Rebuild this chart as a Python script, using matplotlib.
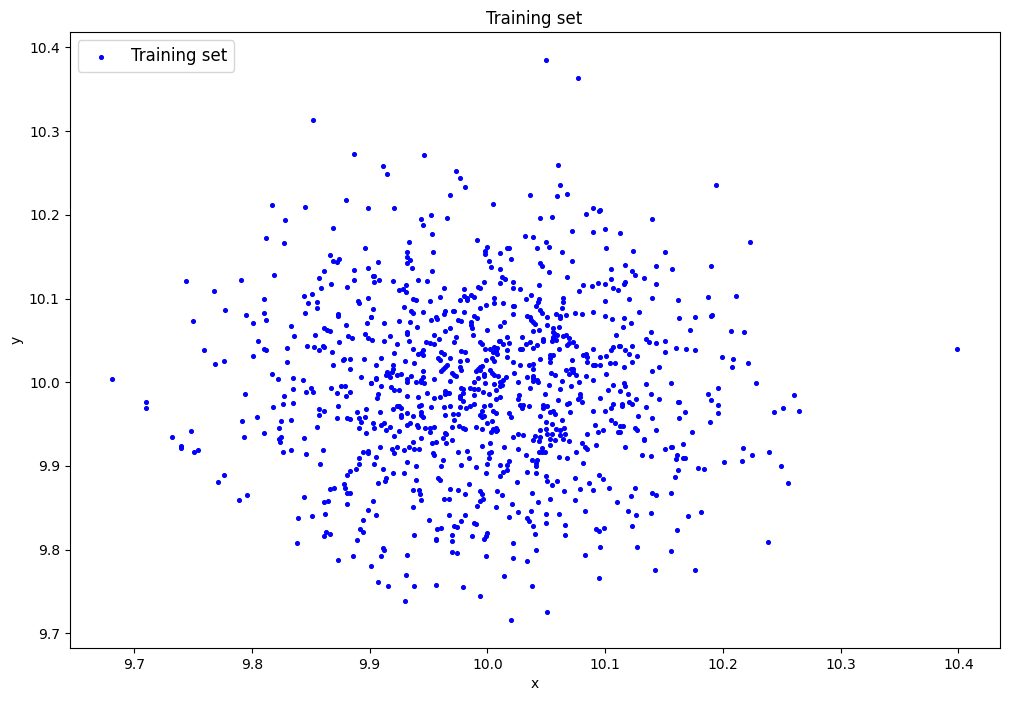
import numpy as np
from matplotlib import pyplot as plt

# values, (x, y), one list per part of the cloud
top_points = [
    (9.852,10.313),(9.887,10.273),(9.911,10.258),(9.915,10.249),(9.817,10.212),(9.845,10.209),(9.880,10.218),
    (9.899,10.208),(9.921,10.208),(9.828,10.194),(9.869,10.184),(9.812,10.172),
    (10.050,10.385),(10.077,10.363),(9.946,10.272),(10.060,10.260),(9.973,10.252),(9.977,10.244),(9.981,10.233),
    (10.194,10.236),(10.062,10.236),(9.968,10.224),(10.036,10.224),(10.059,10.223),(10.068,10.225),(10.005,10.213),
    (10.090,10.208),(10.096,10.206),(10.095,10.205),(10.084,10.201),(9.952,10.200),(9.944,10.195),(9.966,10.196),
    (10.045,10.196),(10.055,10.197),(10.140,10.195),(9.945,10.188),(9.953,10.177),(10.072,10.181),(10.090,10.180),
    (10.100,10.183),(10.113,10.178),(10.032,10.175),(10.039,10.174),(9.991,10.170),
]

left_points = [
    (9.827,10.166),(9.896,10.160),(9.866,10.152),(9.874,10.147),(9.869,10.145),(9.872,10.144),(9.899,10.137),
    (9.861,10.133),(9.887,10.134),(9.819,10.128),(9.857,10.125),(9.887,10.122),(9.744,10.121),(9.791,10.122),
    (9.867,10.117),(9.881,10.114),(9.859,10.113),(9.768,10.109),(9.851,10.105),(9.844,10.103),(9.899,10.101),
    (9.810,10.100),(9.890,10.097),(9.891,10.095),(9.848,10.095),(9.855,10.096),(9.855,10.089),(9.777,10.086),
    (9.810,10.083),(9.845,10.083),(9.795,10.080),(9.873,10.082),(9.873,10.079),(9.901,10.078),(9.812,10.074),
    (9.750,10.073),(9.801,10.071),(9.898,10.071),(9.833,10.067),(9.880,10.068),(9.861,10.065),(9.864,10.062),
    (9.866,10.061),(9.896,10.058),(9.854,10.057),(9.882,10.055),(9.885,10.053),(9.899,10.053),(9.836,10.055),
    (9.805,10.049),(9.874,10.048),(9.847,10.043),(9.853,10.042),(9.860,10.043),(9.861,10.042),(9.830,10.041),
    (9.857,10.039),(9.810,10.040),(9.812,10.039),(9.759,10.039),(9.868,10.036),(9.801,10.031),(9.877,10.027),
    (9.878,10.028),(9.883,10.028),(9.895,10.028),(9.776,10.025),(9.830,10.024),(9.769,10.022),(9.869,10.021),
    (9.883,10.016),(9.817,10.010),(9.681,10.004),(9.822,10.004),(9.835,10.005),(9.843,10.003),(9.893,10.006),
    (9.901,9.999),(9.876,9.996),(9.879,9.996),(9.867,9.993),(9.850,9.993),(9.835,9.992),(9.846,9.988),
    (9.852,9.988),(9.872,9.987),(9.883,9.988),(9.794,9.986),(9.880,9.984),(9.827,9.984),(9.710,9.977),
    (9.826,9.974),(9.835,9.975),(9.710,9.969),(9.873,9.972),(9.818,9.971),(9.857,9.968),(9.861,9.966),
    (9.897,9.968),(9.889,9.965),(9.857,9.961),(9.804,9.959),(9.872,9.957),(9.881,9.957),(9.883,9.956),
    (9.891,9.957),(9.896,9.959),(9.893,9.953),(9.792,9.954),(9.825,9.954),(9.833,9.955),(9.855,9.947),
    (9.823,9.945),(9.891,9.945),(9.748,9.942),(9.810,9.939),(9.897,9.939),(9.732,9.935),(9.793,9.935),
    (9.825,9.935),(9.844,9.934),(9.823,9.932),
    (9.740,9.924),(9.740,9.922),(9.751,9.917),(9.754,9.919),(9.776,9.889),(9.771,9.881),(9.796,9.865),(9.789,9.859),
]

center_upper = [
    (9.933,10.168),(10.050,10.168),(10.000,10.162),(10.017,10.160),(10.018,10.160),(10.042,10.160),(10.052,10.162),
    (10.101,10.160),(9.932,10.156),(9.954,10.156),(9.998,10.157),(9.998,10.153),(10.011,10.154),(10.063,10.156),
    (9.932,10.150),(9.934,10.146),(9.932,10.142),(9.907,10.144),(10.001,10.145),(10.020,10.147),(10.072,10.145),
    (10.045,10.142),(10.046,10.139),(9.936,10.137),(10.003,10.138),(10.011,10.135),(10.105,10.135),(9.953,10.133),
    (10.052,10.132),(10.068,10.126),(10.012,10.126),(10.015,10.123),(9.903,10.127),(9.904,10.127),(9.904,10.120),
    (9.908,10.122),(9.920,10.121),(9.941,10.122),(9.949,10.121),(10.011,10.119),(10.022,10.120),(9.997,10.120),
    (10.105,10.123),(10.100,10.117),(10.094,10.119),(10.089,10.115),(10.081,10.116),(10.078,10.109),(10.107,10.113),
    (10.111,10.110),(9.931,10.116),(9.928,10.111),(9.925,10.110),(9.931,10.108),(10.044,10.116),(10.022,10.113),
    (10.028,10.111),(9.992,10.114),(9.994,10.113),(9.963,10.113),(9.980,10.111),(9.980,10.103),(9.983,10.101),
    (9.983,10.098),(9.986,10.104),(9.989,10.102),(9.977,10.098),(9.960,10.102),(9.951,10.097),(9.937,10.100),
    (9.939,10.098),(10.006,10.101),(10.006,10.095),(10.013,10.095),(9.999,10.092),(9.994,10.089),(10.037,10.104),
    (10.033,10.100),(10.044,10.100),(10.043,10.096),(10.041,10.091),(10.064,10.101),(10.064,10.096),(10.100,10.097),
    (10.063,10.089),(10.022,10.091),(10.023,10.091),(10.022,10.082),(10.045,10.086),(10.046,10.083),(9.929,10.090),
    (9.903,10.088),(9.935,10.085),(9.937,10.083),(9.945,10.084),(9.964,10.085),(9.963,10.082),(9.971,10.085),
    (9.972,10.085),(9.980,10.084),(9.989,10.079),(9.991,10.077),(9.901,10.078),(10.034,10.079),(10.036,10.078),
    (10.037,10.074),(10.039,10.072),(10.051,10.078),(10.058,10.082),(10.062,10.077),(10.062,10.079),(10.067,10.080),
    (10.074,10.083),(10.080,10.082),(10.090,10.084),(10.100,10.079),(10.106,10.076),(9.956,10.078),(9.957,10.076),
    (9.952,10.074),(9.975,10.074),(9.978,10.073),(9.912,10.071),(9.925,10.073),(9.934,10.072),(9.986,10.072),
    (9.986,10.068),(9.987,10.065),(10.014,10.072),(10.011,10.067),(10.040,10.070),(10.051,10.068),(10.056,10.065),
    (10.061,10.066),(9.968,10.065),(9.964,10.061),(9.940,10.066),(9.932,10.060),(9.932,10.058),(10.000,10.062),
    (10.039,10.061),(10.044,10.062),(10.056,10.060),(10.057,10.058),(10.059,10.057),(10.056,10.054),(10.056,10.052),
    (10.058,10.051),(10.055,10.049),(10.064,10.055),(10.067,10.057),(10.069,10.053),(10.109,10.057),(9.955,10.057),
    (9.917,10.055),(9.988,10.057),(9.973,10.054),(9.972,10.048),(9.959,10.052),(9.902,10.051),(9.912,10.049),
    (9.933,10.049),(10.017,10.054),(10.029,10.054),(10.047,10.052),(10.047,10.049),(9.948,10.048),(9.951,10.047),
    (9.955,10.046),(9.994,10.048),(9.995,10.046),(10.010,10.049),(10.011,10.049),(10.013,10.046),(10.018,10.047),
    (10.033,10.046),(10.036,10.048),(10.069,10.047),(10.068,10.045),(10.073,10.048),(10.075,10.043),(9.923,10.046),
    (10.039,10.041),(10.042,10.045),(9.937,10.040),(9.998,10.040),(10.002,10.040),(10.006,10.042),(10.008,10.041),
    (10.005,10.036),(10.007,10.037),(10.017,10.039),(10.028,10.040),(10.029,10.040),(10.061,10.040),(10.090,10.040),
    (10.105,10.039),(10.107,10.042),(10.112,10.043),(9.945,10.039),(9.944,10.035),(9.941,10.034),(9.945,10.033),
    (9.961,10.036),(9.963,10.034),(9.978,10.037),(9.981,10.036),(9.921,10.035),(10.008,10.034),(10.017,10.030),
    (10.053,10.033),(10.056,10.033),(10.053,10.029),(10.081,10.033),(10.084,10.034),(10.085,10.030),(9.910,10.029),
    (9.958,10.029),(9.960,10.027),(9.968,10.029),(9.983,10.027),(9.977,10.025),(9.999,10.027),(10.004,10.029),
    (10.006,10.025),(10.045,10.028),(9.930,10.025),(9.938,10.023),(10.022,10.024),(10.053,10.024),(10.085,10.024),
    (10.072,10.027),(10.096,10.030),(10.101,10.031),(10.090,10.021),(10.091,10.021),(10.096,10.021),(10.104,10.023),
    (10.108,10.023),
]

center_lower = [
    (9.905,10.021),(9.920,10.021),(9.920,10.016),(9.966,10.021),(9.964,10.018),(9.962,10.016),(9.961,10.014),
    (9.977,10.018),(9.978,10.015),(9.995,10.020),(9.994,10.018),(9.992,10.016),(9.990,10.014),(9.994,10.015),
    (10.028,10.021),(10.035,10.021),(10.039,10.022),(10.039,10.016),(9.945,10.014),(10.002,10.015),(10.004,10.011),
    (10.006,10.009),(10.009,10.008),(10.023,10.011),(10.054,10.011),(10.057,10.009),(10.067,10.015),(10.071,10.016),
    (10.073,10.016),(10.069,10.010),(10.073,10.012),(10.075,10.009),(10.084,10.008),(10.101,10.010),(9.915,10.012),
    (9.914,10.009),(9.916,10.010),(9.919,10.012),(9.917,10.006),(9.923,10.009),(9.927,10.010),(9.970,10.011),
    (9.972,10.009),(9.973,10.008),(9.997,10.010),(9.997,10.008),(9.992,10.005),(10.034,10.006),(10.039,10.008),
    (10.039,10.005),(10.042,10.003),(10.039,10.002),(10.043,10.000),(10.016,10.006),(10.013,10.003),(10.011,10.000),
    (10.012,9.997),(10.011,9.996),(9.905,10.005),(9.905,10.004),(9.935,10.008),(9.932,10.004),(9.932,10.000),
    (9.945,10.006),(9.944,10.003),(9.939,10.000),(9.944,10.000),(9.946,9.999),(9.955,10.004),(9.968,10.002),
    (9.989,10.000),(9.998,9.999),(10.006,9.998),(10.026,10.000),(10.063,10.002),(10.078,10.000),(10.090,10.003),
    (9.901,9.999),(9.910,9.996),(9.918,9.994),(9.921,9.991),(9.925,9.991),(10.052,9.997),(10.071,9.996),
    (10.107,9.997),(10.102,9.991),(9.978,9.993),(9.979,9.992),(9.985,9.993),(9.989,9.992),(9.992,9.992),
    (10.007,9.991),(10.062,9.992),(10.036,9.993),(9.964,9.990),(9.966,9.987),(9.967,9.987),(9.964,9.986),
    (9.949,9.987),(9.996,9.988),(10.001,9.986),(9.979,9.987),(9.977,9.984),(9.977,9.981),(9.989,9.985),
    (10.049,9.986),(10.079,9.986),(10.079,9.982),(10.077,9.980),(10.080,9.977),(9.907,9.986),(9.906,9.981),
    (9.932,9.984),(9.941,9.982),(9.955,9.981),(9.960,9.982),(10.027,9.985),(10.026,9.980),(10.011,9.982),
    (10.007,9.980),(10.096,9.981),(10.060,9.979),(10.107,9.974),(10.105,9.969),(10.100,9.966),(9.979,9.978),
    (9.997,9.972),(10.002,9.973),(9.977,9.971),(9.968,9.972),(9.963,9.971),(9.952,9.971),(9.944,9.973),
    (9.942,9.972),(9.989,9.974),(9.985,9.972),(9.982,9.969),(10.028,9.973),(10.030,9.973),(10.029,9.969),
    (10.035,9.972),(10.047,9.973),(10.051,9.972),(10.047,9.969),(10.069,9.975),(10.068,9.974),(9.923,9.972),
    (9.920,9.968),(9.925,9.972),(9.927,9.969),(10.070,9.965),(10.056,9.966),(10.053,9.965),(10.057,9.962),
    (10.090,9.966),(9.909,9.965),(9.932,9.963),(9.927,9.961),(9.927,9.959),(9.937,9.960),(9.944,9.965),
    (9.944,9.961),(9.945,9.959),(9.964,9.961),(9.971,9.962),(9.975,9.962),(9.995,9.966),(9.994,9.961),
    (9.995,9.959),(9.997,9.960),(10.005,9.966),(10.007,9.963),(10.018,9.963),(10.020,9.959),(10.045,9.960),
    (9.972,9.955),(10.050,9.953),(10.055,9.950),(10.063,9.955),(10.105,9.955),(10.108,9.951),(9.903,9.951),
    (9.912,9.951),(9.910,9.949),(9.904,9.945),(9.934,9.951),(9.932,9.949),(9.940,9.949),(9.941,9.947),
    (9.917,9.947),(9.914,9.943),(9.925,9.942),(9.947,9.945),(9.951,9.945),(9.955,9.947),(9.951,9.941),
    (9.970,9.947),(9.976,9.948),(9.979,9.945),(9.981,9.944),(9.990,9.947),(9.995,9.944),(10.000,9.951),
    (10.004,9.954),(10.007,9.945),(10.005,9.944),(10.003,9.941),(10.007,9.942),(10.008,9.943),(10.045,9.943),
    (10.050,9.944),(10.058,9.944),(10.062,9.943),(10.065,9.945),(10.051,9.938),(10.055,9.938),(10.066,9.938),
    (10.062,9.937),(10.091,9.949),(10.098,9.943),(10.094,9.941),(10.085,9.938),(10.111,9.941),(9.921,9.936),
    (9.964,9.939),(9.965,9.938),(10.026,9.938),(10.030,9.937),(10.022,9.935),(10.045,9.935),(10.040,9.936),
    (9.944,9.933),(9.962,9.933),(10.053,9.932),(10.064,9.932),
]

right_points = [
    (10.223,10.168),(10.124,10.157),(10.151,10.156),(10.117,10.140),(10.143,10.139),(10.190,10.139),(10.123,10.133),
    (10.125,10.128),(10.157,10.135),(10.133,10.125),(10.117,10.120),(10.116,10.117),(10.143,10.117),(10.120,10.100),
    (10.140,10.101),(10.162,10.098),(10.187,10.102),(10.211,10.103),(10.129,10.084),(10.116,10.077),(10.163,10.077),
    (10.176,10.078),(10.190,10.079),(10.191,10.080),(10.122,10.071),(10.115,10.066),(10.139,10.060),(10.172,10.062),
    (10.207,10.061),(10.218,10.060),(10.135,10.052),(10.137,10.048),(10.143,10.047),(10.151,10.049),(10.113,10.043),
    (10.123,10.043),(10.117,10.039),(10.120,10.034),(10.127,10.031),(10.151,10.036),(10.160,10.041),(10.169,10.040),
    (10.176,10.039),(10.399,10.040),(10.199,10.030),(10.209,10.028),(10.221,10.023),(10.123,10.024),(10.116,10.018),
    (10.146,10.018),(10.140,10.014),(10.208,10.018),(10.116,9.999),(10.117,9.996),(10.135,9.998),(10.156,9.999),
    (10.228,9.999),(10.196,9.993),(10.113,9.990),(10.119,9.986),(10.139,9.986),(10.187,9.986),(10.260,9.985),
    (10.126,9.980),(10.146,9.980),(10.190,9.979),(10.120,9.977),(10.123,9.974),(10.114,9.974),(10.114,9.972),
    (10.162,9.977),(10.163,9.977),(10.196,9.973),(10.135,9.971),(10.251,9.969),(10.243,9.965),(10.265,9.966),
    (10.168,9.965),(10.196,9.963),(10.128,9.960),(10.140,9.957),(10.163,9.957),(10.189,9.953),(10.113,9.948),
    (10.115,9.948),(10.125,9.945),(10.127,9.943),(10.143,9.943),(10.113,9.941),(10.174,9.941),(10.133,9.932),
]

bottom_left = [
    (9.824,9.929),(9.826,9.917),(9.833,9.919),(9.846,9.914),(9.860,9.919),(9.858,9.902),(9.909,9.923),(9.937,9.929),
    (9.933,9.923),(9.923,9.923),(9.919,9.920),(9.921,9.915),(9.929,9.919),(9.938,9.920),(9.942,9.920),(9.894,9.917),
    (9.899,9.918),(9.899,9.915),(9.891,9.909),(9.905,9.911),(9.891,9.902),(9.904,9.902),(9.932,9.905),(9.888,9.896),
    (9.883,9.894),(9.881,9.889),(9.911,9.896),(9.920,9.892),(9.929,9.892),(9.939,9.900),(9.914,9.886),(9.913,9.882),
    (9.907,9.880),(9.939,9.883),(9.878,9.878),(9.879,9.874),(9.866,9.872),(9.870,9.874),(9.881,9.868),(9.883,9.868),
    (9.937,9.871),(9.942,9.871),(9.943,9.866),(9.944,9.859),(9.844,9.863),(9.861,9.857),(9.865,9.858),(9.881,9.855),
    (9.903,9.858),(9.937,9.851),(9.899,9.847),(9.862,9.843),(9.851,9.840),(9.839,9.838),(9.905,9.841),(9.894,9.835),
    (9.950,9.835),(9.892,9.825),(9.894,9.821),(9.863,9.821),(9.866,9.819),(9.861,9.816),(9.938,9.818),(9.889,9.812),
    (9.838,9.808),(9.956,9.813),(9.956,9.812),(9.911,9.802),(9.912,9.800),(9.910,9.792),(9.886,9.792),(9.873,9.788),
    (9.932,9.794),(9.901,9.781),(9.931,9.770),(9.907,9.761),(9.916,9.757),(9.938,9.757),(9.956,9.758),(9.930,9.739),
    (9.979,9.755),(9.994,9.745),(10.020,9.716),(10.014,9.769),(10.022,9.808),(10.022,9.790),(9.999,9.792),(9.970,9.797),
    (9.974,9.796),(9.970,9.810),(9.970,9.818),(9.987,9.816),(9.997,9.813),(9.999,9.816),(10.000,9.820),(9.989,9.832),
    (9.990,9.831),(9.972,9.828),(9.974,9.827),(9.957,9.825),(9.961,9.826),(9.978,9.834),(9.967,9.841),(9.981,9.841),
    (10.018,9.839),(10.026,9.845),(10.021,9.855),(10.007,9.851),(9.991,9.852),(9.994,9.858),(9.996,9.861),(9.963,9.861),
    (9.967,9.861),(10.012,9.865),(10.008,9.870),(9.994,9.870),(9.995,9.866),(9.981,9.866),(9.975,9.871),(9.968,9.872),
    (9.984,9.878),(9.958,9.886),(9.960,9.883),(10.025,9.881),(9.999,9.892),(10.011,9.888),(10.013,9.893),(10.017,9.895),
    (10.011,9.901),(10.017,9.901),(10.018,9.906),(10.000,9.902),(9.990,9.899),(9.978,9.901),(9.961,9.900),(9.962,9.907),
    (9.984,9.909),(10.001,9.909),(10.001,9.915),(10.003,9.917),(9.954,9.915),(9.955,9.913),(9.975,9.917),(9.983,9.918),
    (9.995,9.924),(10.002,9.927),(10.014,9.923),(10.026,9.920),(9.953,9.927),(9.956,9.929),(9.965,9.927),(9.970,9.931),
]

bottom_right = [
    (10.039,9.931),(10.044,9.930),(10.057,9.931),(10.069,9.930),(10.133,9.931),(10.053,9.925),(10.046,9.921),(10.044,9.917),
    (10.046,9.917),(10.049,9.917),(10.033,9.913),(10.038,9.907),(10.042,9.907),(10.041,9.903),(10.041,9.900),(10.034,9.893),
    (10.041,9.892),(10.061,9.911),(10.068,9.909),(10.075,9.917),(10.080,9.927),(10.083,9.923),(10.085,9.920),(10.092,9.925),
    (10.081,9.903),(10.117,9.923),(10.131,9.913),(10.139,9.912),(10.151,9.920),(10.156,9.923),(10.157,9.923),(10.166,9.926),
    (10.161,9.913),(10.160,9.908),(10.166,9.909),(10.168,9.909),(10.217,9.921),(10.239,9.917),(10.225,9.913),(10.201,9.905),
    (10.216,9.906),(10.249,9.900),(10.179,9.898),(10.184,9.896),(10.162,9.895),(10.159,9.887),(10.255,9.880),(10.050,9.888),
    (10.051,9.882),(10.059,9.882),(10.055,9.877),(10.074,9.886),(10.095,9.889),(10.098,9.884),(10.086,9.880),(10.079,9.872),
    (10.090,9.871),(10.103,9.874),(10.125,9.874),(10.122,9.864),(10.065,9.870),(10.038,9.868),(10.043,9.857),(10.053,9.861),
    (10.074,9.859),(10.110,9.857),(10.140,9.868),(10.143,9.865),(10.156,9.868),(10.037,9.846),(10.050,9.843),(10.061,9.843),
    (10.083,9.846),(10.119,9.846),(10.126,9.841),(10.139,9.844),(10.181,9.845),(10.170,9.840),(10.034,9.838),(10.035,9.834),
    (10.050,9.832),(10.039,9.828),(10.066,9.829),(10.092,9.825),(10.095,9.822),(10.099,9.826),(10.123,9.828),(10.161,9.823),
    (10.040,9.819),(10.066,9.818),(10.041,9.800),(10.096,9.803),(10.127,9.803),(10.083,9.794),(10.156,9.798),(10.238,9.809),
    (10.034,9.786),(10.142,9.776),(10.176,9.776),(10.095,9.766),(10.038,9.757),(10.051,9.726),
]

all_points = top_points + left_points + center_upper + center_lower + right_points + bottom_left + bottom_right
x_train = [p[0] for p in all_points]
y_train = [p[1] for p in all_points]

fig = plt.figure(figsize=(10.10, 7.01), dpi=100)
ax = fig.add_axes([69.5 / 1010, (701 - 648) / 701, 930 / 1010, 616 / 701])
ax.scatter(x_train, y_train, c='b', marker='.', s=30, linewidths=0.9, label='Training set')
ax.set_title('Training set')
ax.set_xlabel('x')
ax.set_ylabel('y')
ax.legend(loc='upper left', fontsize=12)
fig.savefig('out.png', dpi=100)
